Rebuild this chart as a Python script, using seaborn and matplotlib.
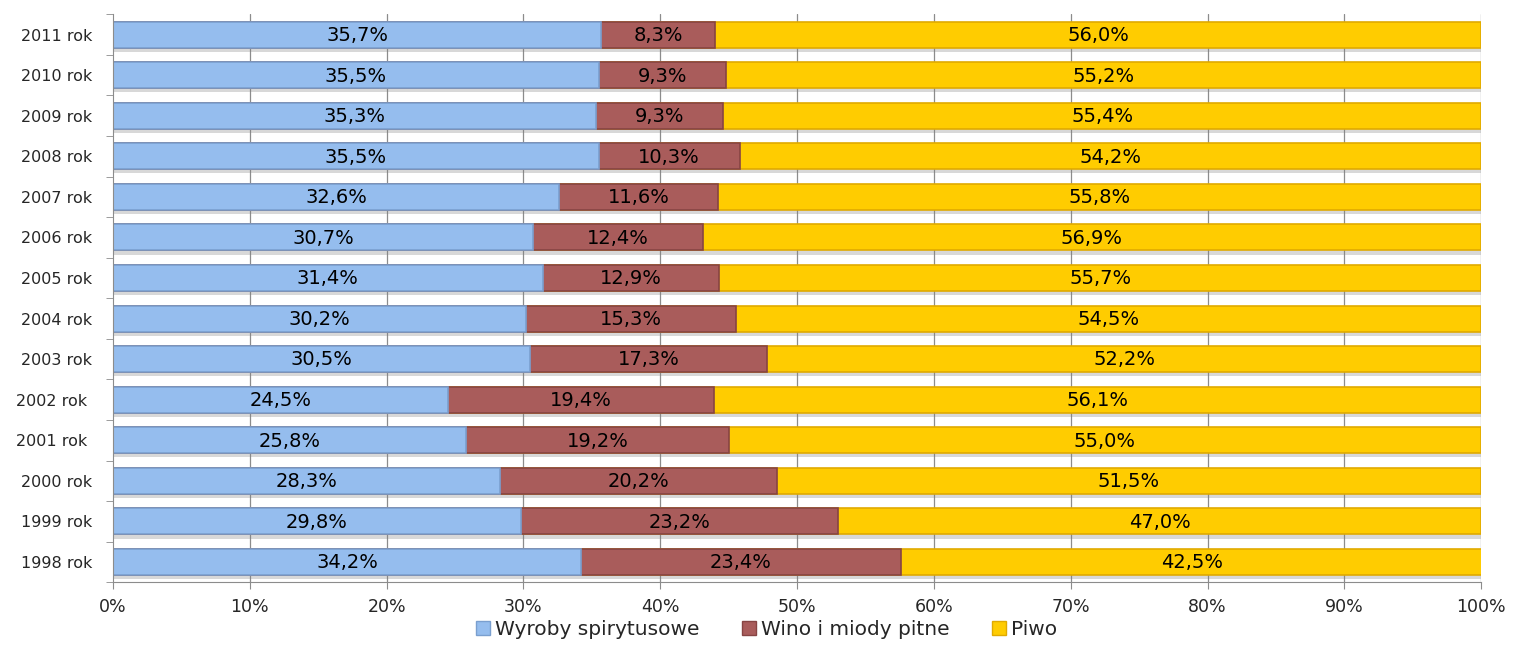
import numpy as np
import pandas as pd
import matplotlib
matplotlib.use('Agg')
import matplotlib.pyplot as plt
import matplotlib.patheffects as pe
import seaborn as sns
from matplotlib.patches import Patch
from matplotlib.ticker import PercentFormatter, FixedLocator

sns.set_style('white')
plt.rcParams['font.family'] = ['DejaVu Sans']

# =====
# DATA
# =====
years = ['1998 rok', '1999 rok', '2000 rok', '2001 rok ', '2002 rok ', '2003 rok',
         '2004 rok', '2005 rok', '2006 rok', '2007 rok', '2008 rok', '2009 rok',
         '2010 rok', '2011 rok']
spirits = [34.2, 29.8, 28.3, 25.8, 24.5, 30.5, 30.2, 31.4, 30.7, 32.6, 35.5, 35.3, 35.5, 35.7]
wine = [23.4, 23.2, 20.2, 19.2, 19.4, 17.3, 15.3, 12.9, 12.4, 11.6, 10.3, 9.3, 9.3, 8.3]
beer = [42.5, 47.0, 51.5, 55.0, 56.1, 52.2, 54.5, 55.7, 56.9, 55.8, 54.2, 55.4, 55.2, 56.0]
x_ticks = [0, 10, 20, 30, 40, 50, 60, 70, 80, 90, 100]

series_names = ['Wyroby spirytusowe', 'Wino i miody pitne', 'Piwo']
colors = ['#95BDEE', '#A95C5B', '#FFCC00']
edge_colors = ['#7A9FCF', '#874443', '#E0AA00']

df = pd.DataFrame({'year': years, 'spirits': spirits, 'wine': wine, 'beer': beer})
df['c1'] = df['spirits']
df['c2'] = df['spirits'] + df['wine']
df['c3'] = df['c2'] + df['beer']
order = years[::-1]

# ====
# PLOT
# ====
fig, ax = plt.subplots(figsize=(15.27, 6.52), dpi=100)
fig.subplots_adjust(left=0.074, right=0.970, top=0.978, bottom=0.107)

# vertical grid lines behind the bars
ax.grid(False)
for t in x_ticks[1:]:
    ax.axvline(t, color='#8C8C8C', linewidth=0.9, zorder=0.5)

# stacked bars drawn back to front (cumulative totals)
for col, c, ec in zip(['c3', 'c2', 'c1'], colors[::-1], edge_colors[::-1]):
    sns.barplot(data=df, x=col, y='year', order=order, orient='h', color=c,
                saturation=1, width=0.64, edgecolor=ec, linewidth=1.2, ax=ax)

for k, p in enumerate(ax.patches):
    p.set_alpha(1)
    p.set_zorder(2)
    # soft shadow under each full-width row
    if k < len(years):
        p.set_path_effects([pe.SimplePatchShadow(offset=(1, -3), shadow_rgbFace='#808080',
                                                 alpha=0.3),
                            pe.Normal()])

# value labels centred in each segment
starts = {'spirits': [0] * len(years), 'wine': df['c1'].tolist(), 'beer': df['c2'].tolist()}
for key in ['spirits', 'wine', 'beer']:
    for i, y in enumerate(years):
        val = df[key][i]
        xpos = starts[key][i] + val / 2
        ypos = order.index(y)
        ax.text(xpos, ypos + 0.02, ('%.1f%%' % val).replace('.', ','), ha='center',
                va='center', fontsize=14, color='black', zorder=5)

ax.set_xlim(0, 100)
ax.set_ylim(len(years) - 0.5, -0.5)
ax.set_xticks(x_ticks)
ax.xaxis.set_major_formatter(PercentFormatter(decimals=0))
ax.yaxis.set_minor_locator(FixedLocator(np.arange(-0.5, len(years), 1)))
ax.set_xlabel('')
ax.set_ylabel('')
ax.tick_params(axis='x', labelsize=12.5, length=5, color='#8C8C8C', direction='out',
               bottom=True, pad=6)
ax.tick_params(axis='y', which='major', labelsize=11.5, length=0, pad=15)
ax.tick_params(axis='y', which='minor', length=5, color='#8C8C8C', left=True)
for side in ['top', 'right']:
    ax.spines[side].set_visible(False)
for side in ['left', 'bottom']:
    ax.spines[side].set_color('#8C8C8C')
    ax.spines[side].set_zorder(3)

handles = [Patch(facecolor=c, edgecolor=ec, label=n)
           for c, ec, n in zip(colors, edge_colors, series_names)]
fig.legend(handles=handles, loc='lower center', ncol=3, frameon=False,
           fontsize=14.5, bbox_to_anchor=(0.502, -0.008), handlelength=0.7,
           handleheight=0.7, handletextpad=0.25, columnspacing=2.1)

plt.savefig('out.png', dpi=100)
plt.close()
